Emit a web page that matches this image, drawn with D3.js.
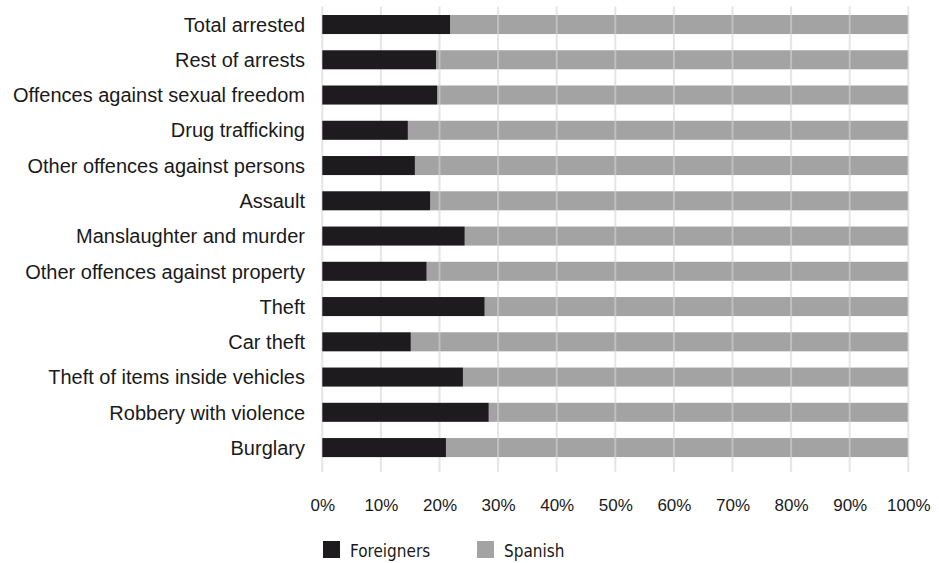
<!DOCTYPE html>
<html>
<head>
<meta charset="utf-8">
<script src="https://cdn.jsdelivr.net/npm/d3@7/dist/d3.min.js"></script>
<style>
  body { margin: 0; background: #fff; }
  svg { display: block; font-family: "Liberation Sans Narrow", "DejaVu Sans Condensed", "Roboto", sans-serif; }
  .grid line { stroke: #d4d4d4; stroke-width: 2; stroke-opacity: 0.6; }
</style>
</head>
<body>
<svg id="chart"></svg>
<script>
  // crime categories, top to bottom
  let categories = [
    "Total arrested",
    "Rest of arrests",
    "Offences against sexual freedom",
    "Drug trafficking",
    "Other offences against persons",
    "Assault",
    "Manslaughter and murder",
    "Other offences against property",
    "Theft",
    "Car theft",
    "Theft of items inside vehicles",
    "Robbery with violence",
    "Burglary"
  ]
  // share of arrested who are foreigners (%)
  let foreigners = [21.8, 19.4, 19.6, 14.6, 15.8, 18.4, 24.3, 17.8, 27.7, 15.1, 24.0, 28.4, 21.1]
  // share who are Spanish (%)
  let spanish = foreigners.map(f => 100 - f)
  let ticks = [0, 10, 20, 30, 40, 50, 60, 70, 80, 90, 100]
  let seriesNames = ["Foreigners", "Spanish"]
  let colors = ["#1d1b1e", "#a3a3a4"]

  let width = 939, height = 563
  let margin = { left: 322.3, right: 30.7, top: 6.9, bottom: 97.8 }

  let svg = d3.select("#chart").attr("width", width).attr("height", height)

  let x = d3.scaleLinear().domain([0, 100]).range([margin.left, width - margin.right])
  let y = d3.scaleBand()
    .domain(categories)
    .range([margin.top, height - margin.bottom])
    .paddingInner(0.46)
    .paddingOuter(0.23)

  let rows = categories.map((c, i) => ({ name: c, Foreigners: foreigners[i], Spanish: spanish[i] }))
  let stacked = d3.stack().keys(seriesNames)(rows)

  // Spanish (gray) layer first
  svg.append("g").selectAll("rect")
    .data(stacked[1])
    .join("rect")
    .attr("x", d => x(d[0]))
    .attr("y", d => y(d.data.name))
    .attr("width", d => x(d[1]) - x(d[0]))
    .attr("height", y.bandwidth())
    .attr("fill", colors[1])

  // grid lines
  svg.append("g").attr("class", "grid")
    .selectAll("line")
    .data(ticks)
    .join("line")
    .attr("x1", d => x(d)).attr("x2", d => x(d))
    .attr("y1", 6.5).attr("y2", 472)

  // Foreigners (black) layer
  svg.append("g").selectAll("rect")
    .data(stacked[0])
    .join("rect")
    .attr("x", d => x(d[0]))
    .attr("y", d => y(d.data.name))
    .attr("width", d => x(d[1]) - x(d[0]))
    .attr("height", y.bandwidth())
    .attr("fill", colors[0])

  // category labels
  let yAxis = d3.axisLeft(y).tickSize(0).tickPadding(0)
  let gy = svg.append("g")
    .attr("transform", `translate(305,0)`)
    .call(yAxis)
  gy.select(".domain").remove()
  gy.selectAll("text")
    .attr("font-family", null)
    .attr("dy", "0.36em")
    .style("font-size", "20px")
    .style("fill", "#1a1a1a")

  // percentage axis
  let xAxis = d3.axisBottom(x).tickValues(ticks).tickFormat(d => d + "%").tickSize(0).tickPadding(0)
  let gx = svg.append("g")
    .attr("transform", `translate(0,511)`)
    .call(xAxis)
  gx.select(".domain").remove()
  gx.selectAll("text")
    .attr("font-family", null)
    .attr("dy", 0)
    .attr("y", 0)
    .style("font-size", "17px")
    .style("fill", "#1a1a1a")

  // legend
  let legendX = [323, 477]
  let legend = svg.append("g").selectAll("g")
    .data(seriesNames)
    .join("g")
    .attr("transform", (d, i) => `translate(${legendX[i]},541)`)
  legend.append("rect")
    .attr("width", 17).attr("height", 17)
    .attr("fill", (d, i) => colors[i])
  legend.append("text")
    .attr("x", 27).attr("y", 16)
    .style("font-size", "17px")
    .style("fill", "#1a1a1a")
    .text(d => d)
</script>
</body>
</html>
